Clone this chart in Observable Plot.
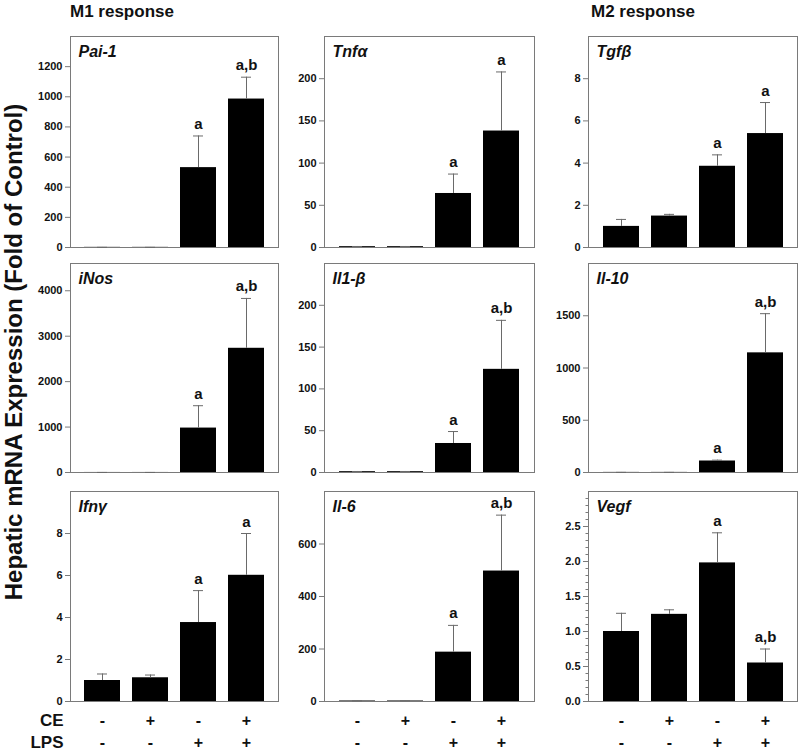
<!DOCTYPE html>
<html><head><meta charset="utf-8">
<script src="https://cdn.jsdelivr.net/npm/d3@7"></script>
<script src="https://cdn.jsdelivr.net/npm/@observablehq/plot@0.6"></script>
<style>
body{margin:0;background:#fff;font-family:"Liberation Sans",Arial,sans-serif;}
#root{position:relative;width:800px;height:751px;overflow:hidden;background:#fff;}
.hdr{position:absolute;font-weight:bold;font-size:17px;color:#111;line-height:1;}
#root svg{position:absolute;overflow:visible;}
</style></head><body><div id="root"></div>
<script>
// ---- data ----
const groups = ["g1","g2","g3","g4"];
const ceSigns  = ["-","+","-","+"];
const lpsSigns = ["-","-","+","+"];
const rowLabels = ["CE","LPS"];
const headers = ["M1 response","M2 response"];
const yTitle = "Hepatic mRNA Expression (Fold of Control)";

const pai1 = [1, 1, 530, 985];     const pai1Err = [1.2, 1.2, 740, 1130];   const pai1Sig = ["","","a","a,b"];
const tnfa = [1, 1, 64, 138];      const tnfaErr = [1.2, 1.2, 87, 208];     const tnfaSig = ["","","a","a"];
const tgfb = [1.0, 1.49, 3.85, 5.4]; const tgfbErr = [1.33, 1.57, 4.39, 6.87]; const tgfbSig = ["","","a","a"];
const inos = [1, 1, 978, 2734];    const inosErr = [1.2, 1.2, 1470, 3831];  const inosSig = ["","","a","a,b"];
const il1b = [1, 1, 34.7, 123.4];  const il1bErr = [1.2, 1.2, 49, 182];     const il1bSig = ["","","a","a,b"];
const il10 = [1, 1, 110, 1145];    const il10Err = [1.2, 1.2, 118, 1520];   const il10Sig = ["","","a","a,b"];
const ifng = [1.0, 1.13, 3.76, 6.01]; const ifngErr = [1.31, 1.26, 5.28, 8.0]; const ifngSig = ["","","a","a"];
const il6  = [2, 2, 188, 497];     const il6Err = [2.5, 2.5, 290, 710];     const il6Sig = ["","","a","a,b"];
const vegf = [1.0, 1.245, 1.98, 0.55]; const vegfErr = [1.26, 1.31, 2.41, 0.75]; const vegfSig = ["","","a","a,b"];

const pai1Ticks = [0,200,400,600,800,1000,1200];
const tnfaTicks = [0,50,100,150,200];
const tgfbTicks = [0,2,4,6,8];
const inosTicks = [0,1000,2000,3000,4000];
const il1bTicks = [0,50,100,150,200];
const il10Ticks = [0,500,1000,1500];
const ifngTicks = [0,2,4,6,8];
const il6Ticks  = [0,200,400,600];
const vegfTicks = [0,0.5,1.0,1.5,2.0,2.5];
const vegfMinor = [0.1,0.2,0.3,0.4,0.6,0.7,0.8,0.9,1.1,1.2,1.3,1.4,1.6,1.7,1.8,1.9,2.1,2.2,2.3,2.4,2.6,2.7,2.8,2.9];

const panels = [
  {name:"Pai-1", v:pai1, e:pai1Err, s:pai1Sig, ticks:pai1Ticks, max:1400},
  {name:"Tnfα",  v:tnfa, e:tnfaErr, s:tnfaSig, ticks:tnfaTicks, max:250},
  {name:"Tgfβ",  v:tgfb, e:tgfbErr, s:tgfbSig, ticks:tgfbTicks, max:10},
  {name:"iNos",  v:inos, e:inosErr, s:inosSig, ticks:inosTicks, max:4600},
  {name:"Il1-β", v:il1b, e:il1bErr, s:il1bSig, ticks:il1bTicks, max:250},
  {name:"Il-10", v:il10, e:il10Err, s:il10Sig, ticks:il10Ticks, max:2000},
  {name:"Ifnγ",  v:ifng, e:ifngErr, s:ifngSig, ticks:ifngTicks, max:10},
  {name:"Il-6",  v:il6,  e:il6Err,  s:il6Sig,  ticks:il6Ticks,  max:800},
  {name:"Vegf",  v:vegf, e:vegfErr, s:vegfSig, ticks:vegfTicks, max:3.0, fmt:d3.format(".1f"), minor:vegfMinor}
];

// ---- layout ----
const FONT = '"Liberation Sans", Arial, sans-serif';
const cols = [[70,278],[324,534],[588,797]];
const rows = [[36,247],[263,472],[491,701]];
const root = document.getElementById("root");

panels.forEach((p, idx) => {
  const row = Math.floor(idx/3), col = idx%3;
  const [fl, fr] = cols[col], [ft, fb] = rows[row];
  const ml = 50, mr = 6, mt = 6, mb = row === 2 ? 56 : 6;
  const data = groups.map((g,i)=>({g, v:p.v[i], e:p.e[i], s:p.s[i], ce:ceSigns[i], lps:lpsSigns[i]}));
  const marks = [
    Plot.frame({stroke:"#7a7a7a"}),
    Plot.barY(data, {x:"g", y:"v", fill:"#000"}),
    Plot.ruleX(data, {x:"g", y1:"v", y2:"e", stroke:"#6a6a6a"}),
    Plot.tickY(data, {x:"g", y:"e", stroke:"#6a6a6a", insetLeft:13, insetRight:13}),
    Plot.text(data.filter(d=>d.s), {x:"g", y:"e", text:"s", dy:-7, lineAnchor:"bottom", fontSize:15, fontWeight:"bold", fill:"#111"}),
    Plot.axisY({ticks:p.ticks, tickSize:5, tickPadding:3, stroke:"#7a7a7a", fill:"#111", fontSize:11, fontWeight:"bold", tickFormat:p.fmt || (d=>String(d)), label:null}),
    Plot.text([p.name], {frameAnchor:"top-left", dx:8, dy:9.5, lineAnchor:"top", fontSize:16, fontWeight:"bold", fontStyle:"italic", fill:"#111"})
  ];
  if (p.minor) marks.push(Plot.axisY({ticks:p.minor, tickSize:2.5, stroke:"#7a7a7a", fill:"none", label:null}));
  if (row === 2) {
    marks.push(Plot.text(data, {x:"g", text:"ce", frameAnchor:"bottom", dy:24.5, lineAnchor:"bottom", fontSize:16, fontWeight:"bold", fill:"#111"}));
    marks.push(Plot.text(data, {x:"g", text:"lps", frameAnchor:"bottom", dy:46, lineAnchor:"bottom", fontSize:16, fontWeight:"bold", fill:"#111"}));
    if (col === 0) {
      marks.push(Plot.text([rowLabels[0]], {frameAnchor:"bottom-left", dx:-7, dy:24.5, lineAnchor:"bottom", textAnchor:"end", fontSize:17, fontWeight:"bold", fill:"#111"}));
      marks.push(Plot.text([rowLabels[1]], {frameAnchor:"bottom-left", dx:-7, dy:46, lineAnchor:"bottom", textAnchor:"end", fontSize:17, fontWeight:"bold", fill:"#111"}));
    }
  }
  const svg = Plot.plot({
    width: fr - fl + ml + mr,
    height: fb - ft + mt + mb,
    marginLeft: ml, marginRight: mr, marginTop: mt, marginBottom: mb,
    x: {domain: groups, paddingInner: 0.25, paddingOuter: 0.29, axis: null},
    y: {domain: [0, p.max]},
    style: {fontFamily: FONT, background: "transparent", overflow: "visible"},
    marks
  });
  svg.style.left = (fl - ml) + "px";
  svg.style.top = (ft - mt) + "px";
  root.appendChild(svg);
});

// headers
[[70, headers[0]], [591, headers[1]]].forEach(([x, t]) => {
  const d = document.createElement("div");
  d.className = "hdr"; d.textContent = t;
  d.style.left = x + "px"; d.style.top = "3px";
  root.appendChild(d);
});

// rotated y title
const ns = "http://www.w3.org/2000/svg";
const ts = document.createElementNS(ns, "svg");
ts.setAttribute("width", 40); ts.setAttribute("height", 751);
ts.style.left = "0px"; ts.style.top = "0px";
const tt = document.createElementNS(ns, "text");
tt.setAttribute("transform", "translate(21.5,352) rotate(-90)");
tt.setAttribute("text-anchor", "middle");
tt.setAttribute("font-family", FONT);
tt.setAttribute("font-size", "24");
tt.setAttribute("font-weight", "bold");
tt.setAttribute("fill", "#111");
tt.textContent = yTitle;
ts.appendChild(tt);
root.appendChild(ts);
</script></body></html>
